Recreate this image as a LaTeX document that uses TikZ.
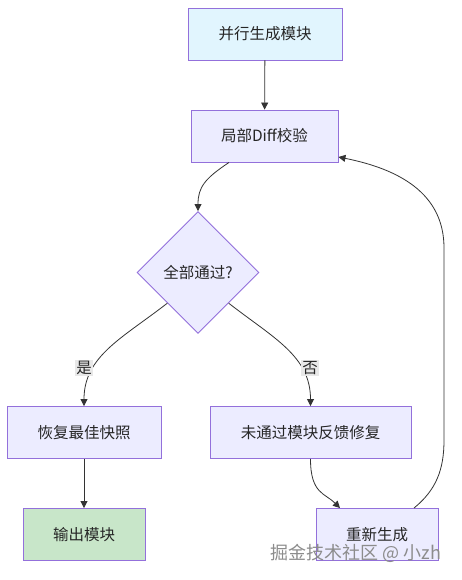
\documentclass[tikz,border=0pt]{standalone}
\usepackage{fontspec}
\newfontfamily\cjk{Noto Sans CJK SC}
\usetikzlibrary{shapes.geometric,arrows.meta}
\definecolor{boxfill}{HTML}{ECECFF}
\definecolor{boxline}{HTML}{9370DB}
\definecolor{startfill}{HTML}{E1F5FE}
\definecolor{donefill}{HTML}{C8E6C9}
\definecolor{edgecol}{HTML}{333333}
\definecolor{lblfill}{HTML}{E8E8E8}

\begin{document}
\begin{tikzpicture}[x=1pt,y=-1pt,
	box/.style={draw=boxline,fill=boxfill,line width=.9pt,minimum height=52pt,inner sep=0pt,font=\cjk\fontsize{15.5}{18}\selectfont,text=black!85},
	edge/.style={draw=edgecol,line width=.8pt,-{Triangle[length=7pt,width=7pt]}},
	lbl/.style={fill=lblfill,inner sep=1.5pt,font=\cjk\fontsize{15.5}{18}\selectfont,text=black!85}]
	\useasboundingbox[fill=white] (0,0) rectangle (461,580);
	% boxes
	\node[box,fill=startfill,minimum width=154pt] (gen) at (265,34){并行生成模块};
	\node[box,minimum width=147pt] (check) at (264.5,136){局部Diff校验};
	\node[box,diamond,aspect=1,minimum width=122pt,minimum height=122pt] (pass) at (198,272.5){全部通过?};
	\node[box,minimum width=154pt] (restore) at (84,432.5){恢复最佳快照};
	\node[box,minimum width=201pt] (fix) at (310.5,432.5){未通过模块反馈修复};
	\node[box,fill=donefill,minimum width=122pt] (out) at (84,534.5){输出模块};
	\node[box,minimum width=122pt] (regen) at (377,534.5){重新生成};
	\coordinate (up1) at (444,440);
	\coordinate (up2) at (444,248);
	% connectors
	\draw[edge] (gen)--(check);
	\draw[edge] ([xshift=-35.5pt]check.south) .. controls +(-24,16) and +(0,-24) .. (pass.north);
	\draw[edge] (pass.south west) .. controls +(-45,35) and +(0,-50) .. (restore.north);
	\draw[edge] (pass.south east) .. controls +(45,35) and +(0,-50) .. (fix.north);
	\node[lbl] (yes) at (84,368){是};
	\node[lbl] (no) at (310,368){否};
	\draw[edge] (restore)--(out);
	\draw[edge] (fix.south) .. controls +(0,35) and +(-15,-15) .. ([xshift=-37pt]regen.north);
	\draw[edge] ([xshift=37pt]regen.north) .. controls +(22,-18) and +(0,30) .. (up1)--(up2) .. controls +(0,-55) and +(60,12) .. ([yshift=-21pt]check.east);
	% watermark
	\node[font=\cjk\fontsize{18}{20}\selectfont,text=black!45] (mark) at (356,553){掘金技术社区 @ 小zh};
\end{tikzpicture}
\end{document}
